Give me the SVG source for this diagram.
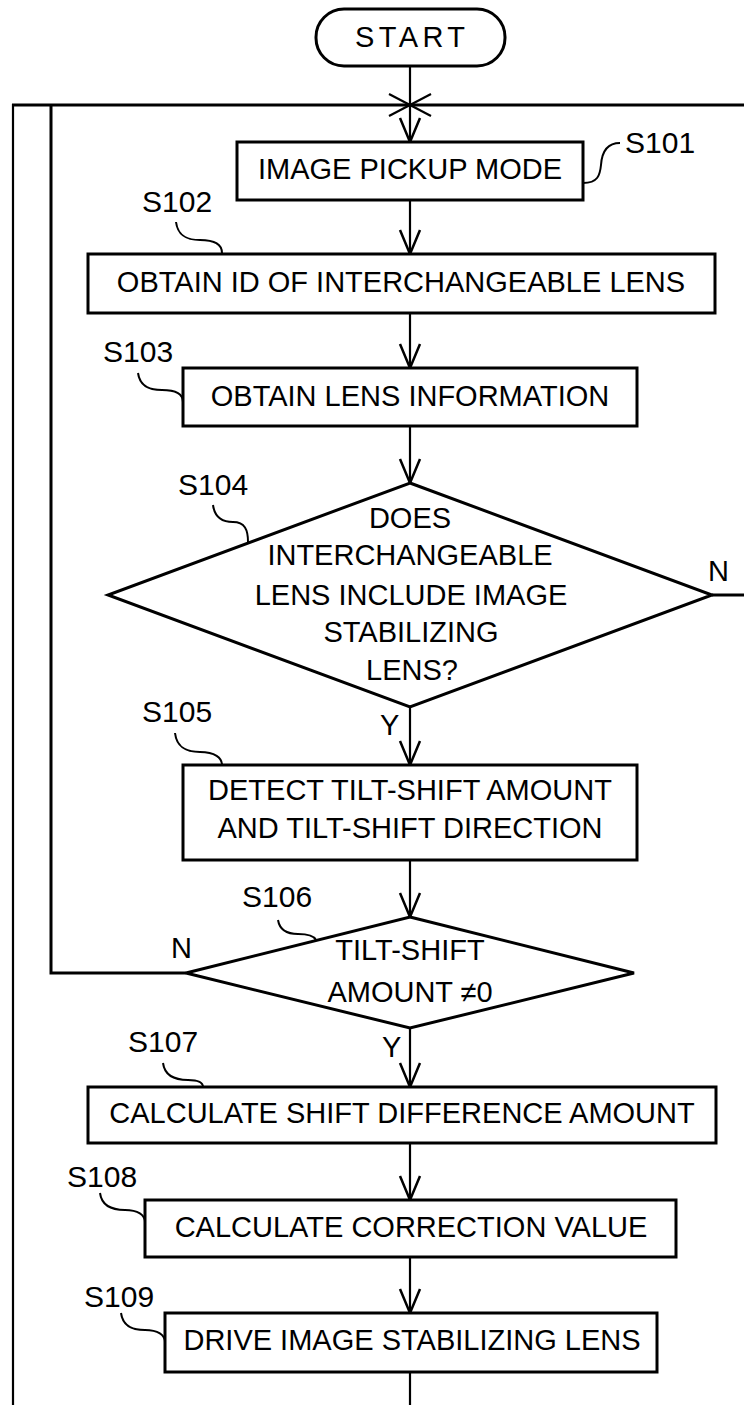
<svg xmlns="http://www.w3.org/2000/svg" width="744" height="1405" viewBox="0 0 744 1405">
<style>
  .box { fill: #fff; stroke: #000; stroke-width: 3; }
  .dia { fill: #fff; stroke: #000; stroke-width: 3; stroke-linejoin: miter; }
  .t { font-family: "Liberation Sans", Arial, sans-serif; font-size: 29px; fill: #000; text-anchor: middle; }
  .lbl { font-family: "Liberation Sans", Arial, sans-serif; font-size: 30px; fill: #000; }
  .yn { font-family: "Liberation Sans", Arial, sans-serif; font-size: 29px; fill: #000; }
  .lead { fill: none; stroke: #000; stroke-width: 2; }
  .flow { fill: none; stroke: #000; stroke-width: 2.2; }
  .loop { fill: none; stroke: #000; stroke-width: 3; }
</style>
<defs>
  <marker id="arr" markerUnits="userSpaceOnUse" markerWidth="30" markerHeight="30" viewBox="-26 -13 30 26" refX="0" refY="0" orient="auto">
    <path d="M-24,-10 L0,0 L-24,10" fill="none" stroke="#000" stroke-width="2.5"/>
  </marker>
</defs>
<rect width="744" height="1405" fill="#fff"/>

<g id="connectors">
  <line class="flow" x1="410" y1="66" x2="410" y2="142" marker-end="url(#arr)"/>
  <line class="flow" x1="389" y1="94" x2="431" y2="116"/>
  <line class="flow" x1="389" y1="116" x2="431" y2="94"/>
  <line class="flow" x1="410" y1="200" x2="410" y2="254" marker-end="url(#arr)"/>
  <line class="flow" x1="410" y1="313" x2="410" y2="368" marker-end="url(#arr)"/>
  <line class="flow" x1="410" y1="426" x2="410" y2="483" marker-end="url(#arr)"/>
  <line class="flow" x1="410" y1="707" x2="410" y2="765" marker-end="url(#arr)"/>
  <line class="flow" x1="410" y1="860" x2="410" y2="917" marker-end="url(#arr)"/>
  <line class="flow" x1="410" y1="1028" x2="410" y2="1087" marker-end="url(#arr)"/>
  <line class="flow" x1="410" y1="1143" x2="410" y2="1200" marker-end="url(#arr)"/>
  <line class="flow" x1="410" y1="1257" x2="410" y2="1313" marker-end="url(#arr)"/>
  <line class="flow" x1="410" y1="1372" x2="410" y2="1405"/>
  <line class="loop" x1="12" y1="105" x2="744" y2="105"/>
  <line class="flow" x1="13" y1="104" x2="13" y2="1405" stroke-width="2.5"/>
  <polyline class="loop" points="186,973 51,973 51,105"/>
  <line class="loop" x1="712" y1="595" x2="744" y2="595"/>
</g>

<g id="start">
  <rect class="box" x="316" y="9" width="189" height="57" rx="28" ry="28"/>
  <text class="t" x="410" y="47" font-size="30" textLength="110" lengthAdjust="spacing">START</text>
</g>

<g id="S101">
  <rect class="box" x="237" y="142" width="346" height="58"/>
  <text class="t" x="410" y="179">IMAGE PICKUP MODE</text>
  <path class="lead" d="M583,183 C598,183 600,175 601,165 C602,150 608,143 620,143"/>
  <text class="lbl" x="625" y="153">S101</text>
</g>

<g id="S102">
  <rect class="box" x="88" y="254" width="627" height="59"/>
  <text class="t" x="401" y="292">OBTAIN ID OF INTERCHANGEABLE LENS</text>
  <path class="lead" d="M176,222 C178,238 190,240 200,240 C214,240 222,244 222,253"/>
  <text class="lbl" x="142" y="212">S102</text>
</g>

<g id="S103">
  <rect class="box" x="183" y="368" width="454" height="58"/>
  <text class="t" x="410" y="406">OBTAIN LENS INFORMATION</text>
  <path class="lead" d="M138,373 C140,388 152,390 162,390 C176,390 183,394 183,402"/>
  <text class="lbl" x="103" y="362">S103</text>
</g>

<g id="S104">
  <polygon class="dia" points="410,483 712,595 410,707 108,595"/>
  <text class="t" x="410" y="528">DOES</text>
  <text class="t" x="410" y="565">INTERCHANGEABLE</text>
  <text class="t" x="411" y="605">LENS INCLUDE IMAGE</text>
  <text class="t" x="411" y="642">STABILIZING</text>
  <text class="t" x="412" y="680">LENS?</text>
  <path class="lead" d="M213,505 C215,520 225,522 233,522 C245,522 248,530 248,542"/>
  <text class="lbl" x="178" y="495">S104</text>
  <text class="yn" x="708" y="581">N</text>
  <text class="yn" x="380" y="735">Y</text>
</g>

<g id="S105">
  <rect class="box" x="183" y="765" width="454" height="95"/>
  <text class="t" x="410" y="800">DETECT TILT-SHIFT AMOUNT</text>
  <text class="t" x="410" y="838">AND TILT-SHIFT DIRECTION</text>
  <path class="lead" d="M175,733 C177,750 190,752 200,752 C215,752 222,758 222,765"/>
  <text class="lbl" x="142" y="722">S105</text>
</g>

<g id="S106">
  <polygon class="dia" points="410,917 634,973 410,1028 186,973"/>
  <text class="t" x="410" y="960">TILT-SHIFT</text>
  <text class="t" x="410" y="1002">AMOUNT ≠0</text>
  <path class="lead" d="M278,920 C280,932 290,934 298,934 C308,934 314,936 316,940"/>
  <text class="lbl" x="242" y="907">S106</text>
  <text class="yn" x="171" y="958">N</text>
  <text class="yn" x="382" y="1057">Y</text>
</g>

<g id="S107">
  <rect class="box" x="88" y="1087" width="628" height="56"/>
  <text class="t" x="402" y="1123">CALCULATE SHIFT DIFFERENCE AMOUNT</text>
  <path class="lead" d="M163,1063 C165,1078 178,1080 188,1080 C198,1080 203,1083 203,1087"/>
  <text class="lbl" x="128" y="1052">S107</text>
</g>

<g id="S108">
  <rect class="box" x="145" y="1200" width="531" height="57"/>
  <text class="t" x="411" y="1237">CALCULATE CORRECTION VALUE</text>
  <path class="lead" d="M100,1193 C102,1208 115,1210 125,1210 C138,1210 145,1215 145,1222"/>
  <text class="lbl" x="67" y="1187">S108</text>
</g>

<g id="S109">
  <rect class="box" x="165" y="1313" width="492" height="59"/>
  <text class="t" x="412" y="1350">DRIVE IMAGE STABILIZING LENS</text>
  <path class="lead" d="M121,1313 C123,1328 135,1330 145,1330 C158,1330 165,1335 165,1342"/>
  <text class="lbl" x="84" y="1307">S109</text>
</g>
</svg>
